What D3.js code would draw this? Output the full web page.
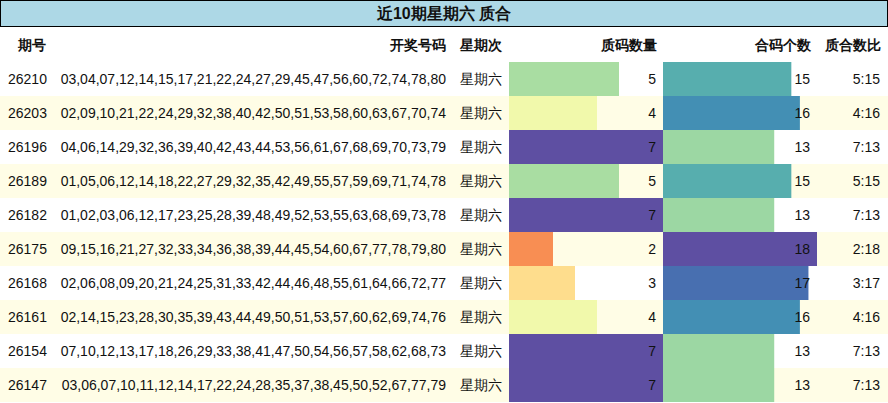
<!DOCTYPE html>
<html>
<head>
<meta charset="utf-8">
<script src="https://cdn.jsdelivr.net/npm/d3@7"></script>
<style>
  body { margin: 0; background: #fff; }
  text { font-family: "Liberation Sans", Arial, sans-serif; font-size: 14px; fill: #111; }
</style>
</head>
<body>
<svg id="chart" width="888" height="403"></svg>
<script>
var periods = ["26210", "26203", "26196", "26189", "26182", "26175", "26168", "26161", "26154", "26147"];
var numbers = [
  "03,04,07,12,14,15,17,21,22,24,27,29,45,47,56,60,72,74,78,80",
  "02,09,10,21,22,24,29,32,38,40,42,50,51,53,58,60,63,67,70,74",
  "04,06,14,29,32,36,39,40,42,43,44,53,56,61,67,68,69,70,73,79",
  "01,05,06,12,14,18,22,27,29,32,35,42,49,55,57,59,69,71,74,78",
  "01,02,03,06,12,17,23,25,28,39,48,49,52,53,55,63,68,69,73,78",
  "09,15,16,21,27,32,33,34,36,38,39,44,45,54,60,67,77,78,79,80",
  "02,06,08,09,20,21,24,25,31,33,42,44,46,48,55,61,64,66,72,77",
  "02,14,15,23,28,30,35,39,43,44,49,50,51,53,57,60,62,69,74,76",
  "07,10,12,13,17,18,26,29,33,38,41,47,50,54,56,57,58,62,68,73",
  "03,06,07,10,11,12,14,17,22,24,28,35,37,38,45,50,52,67,77,79"
];
var weekday = "星期六";
var primeCounts = [5, 4, 7, 5, 7, 2, 3, 4, 7, 7];
var compositeCounts = [15, 16, 13, 15, 13, 18, 17, 16, 13, 13];
var headers = ["期号", "开奖号码", "星期次", "质码数量", "合码个数", "质合数比"];
var title = "近10期星期六 质合";

var svg = d3.select("#chart");
var W = 888, titleH = 26, headH = 36, rowH = 34;
var y = d3.scaleBand().domain(d3.range(periods.length))
  .range([titleH + headH, titleH + headH + rowH * periods.length]);

// title bar
svg.append("rect").attr("x", 0.5).attr("y", 0.5).attr("width", W - 1).attr("height", titleH)
  .attr("fill", "#ADD8E6").attr("stroke", "#000");
svg.append("text").attr("x", W / 2).attr("y", 19).attr("text-anchor", "middle")
  .style("font-size", "16px").style("font-weight", "bold").text(title);

// header
var hx = [{x: 18, a: "start"}, {x: 446, a: "end"}, {x: 481, a: "middle"},
          {x: 657, a: "end"}, {x: 811, a: "end"}, {x: 881, a: "end"}];
headers.forEach(function (h, i) {
  svg.append("text").attr("x", hx[i].x).attr("y", titleH + 24)
    .attr("text-anchor", hx[i].a).style("font-weight", "bold").text(h);
});

// row backgrounds
svg.selectAll(".rowbg").data(periods).enter().append("rect")
  .attr("x", 0).attr("y", function (d, i) { return y(i); })
  .attr("width", W).attr("height", rowH)
  .attr("fill", function (d, i) { return i % 2 ? "#FFFDE6" : "#fff"; });

var barX0 = 509, barW = 154;
var xp = d3.scaleLinear().domain([0, d3.max(primeCounts)]).range([0, barW]);
var xc = d3.scaleLinear().domain([0, d3.max(compositeCounts)]).range([0, barW]);
var cp = d3.scaleLinear().domain(d3.extent(primeCounts)).range([0.25, 1]);
var cc = d3.scaleLinear().domain(d3.extent(compositeCounts)).range([0.72, 1]);

svg.selectAll(".pbar").data(primeCounts).enter().append("rect")
  .attr("x", barX0).attr("y", function (d, i) { return y(i); })
  .attr("width", function (d) { return xp(d); }).attr("height", rowH)
  .attr("fill", function (d) { return d3.interpolateSpectral(cp(d)); });
svg.selectAll(".cbar").data(compositeCounts).enter().append("rect")
  .attr("x", barX0 + barW).attr("y", function (d, i) { return y(i); })
  .attr("width", function (d) { return xc(d); }).attr("height", rowH)
  .attr("fill", function (d) { return d3.interpolateSpectral(cc(d)); });

var rows = svg.selectAll(".row").data(periods).enter().append("g")
  .attr("transform", function (d, i) { return "translate(0," + (y(i) + rowH / 2 + 5) + ")"; });
rows.append("text").attr("x", 8).text(function (d) { return d; });
rows.append("text").attr("x", 446).attr("text-anchor", "end").text(function (d, i) { return numbers[i]; });
rows.append("text").attr("x", 481).attr("text-anchor", "middle").text(weekday);
rows.append("text").attr("x", 656).attr("text-anchor", "end").text(function (d, i) { return primeCounts[i]; });
rows.append("text").attr("x", 810).attr("text-anchor", "end").text(function (d, i) { return compositeCounts[i]; });
rows.append("text").attr("x", 880).attr("text-anchor", "end")
  .text(function (d, i) { return primeCounts[i] + ":" + compositeCounts[i]; });
</script>
</body>
</html>
